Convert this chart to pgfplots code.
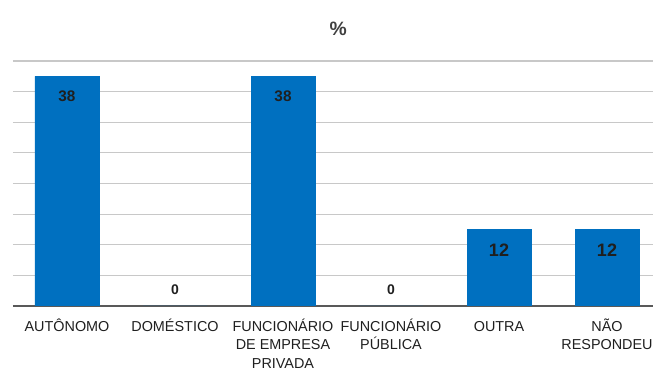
\documentclass[border=0pt]{standalone}
\usepackage{pgfplots}
\pgfplotsset{compat=1.18}
\usepackage{fontspec}
\setmainfont{Liberation Sans}
\definecolor{barblue}{HTML}{0070C0}
\definecolor{gridgray}{HTML}{C8C8C8}
\definecolor{axisgray}{HTML}{595959}
\definecolor{titlegray}{HTML}{404040}
\definecolor{txt}{HTML}{1F1F1F}
\begin{document}
\begin{tikzpicture}
\useasboundingbox (0,0) rectangle (489.75pt,277.5pt);
\begin{axis}[
  at={(9.75pt,48pt)}, anchor=south west,
  width=480pt, height=185.13pt, scale only axis,
  xmin=-0.5, xmax=5.426, ymin=0, ymax=40.3,
  axis line style={draw=none},
  ytick={5,10,...,40}, yticklabels={},
  extra y ticks={0}, extra y tick labels={},
  extra y tick style={grid style={draw=axisgray, line width=1.5pt}},
  ymajorgrids, grid style={draw=gridgray, line width=0.9pt},
  major tick length=0pt,
  xtick={0,1,2,3,4,5},
  xticklabels={\vphantom{Ô}AUTÔNOMO,\vphantom{Ô}DOMÉSTICO,{\vphantom{Ô}FUNCIONÁRIO\\DE EMPRESA\\PRIVADA},{\vphantom{Ô}FUNCIONÁRIO\\PÚBLICA},\vphantom{Ô}OUTRA,{\vphantom{Ô}NÃO\\RESPONDEU}},
  xticklabel style={align=center, font=\fontsize{10.8}{13.9}\selectfont, text=txt, yshift=-6pt},
  title={\%},
  title style={at={(axis description cs:0.508,1)}, anchor=center, yshift=16.6pt, font=\bfseries\fontsize{14.5}{16}\selectfont, text=titlegray},
  ybar, bar width=48pt, bar shift=0pt,
  point meta=explicit symbolic,
  nodes near coords,
]
\addplot[fill=barblue, draw=barblue,
  every node near coord/.append style={anchor=center, yshift=-15pt, font=\bfseries\fontsize{11.5}{13}\selectfont, text=txt}]
  coordinates {(0,37.5) [38] (2,37.5) [38]};
\addplot[fill=barblue, draw=barblue,
  every node near coord/.append style={anchor=center, yshift=-15.75pt, font=\bfseries\fontsize{13.5}{15}\selectfont, text=txt}]
  coordinates {(4,12.5) [12] (5,12.5) [12]};
\addplot[fill=barblue, draw=none,
  every node near coord/.append style={anchor=center, yshift=12pt, font=\bfseries\fontsize{10.5}{12}\selectfont, text=txt}]
  coordinates {(1,0) [0] (3,0) [0]};
\end{axis}
\end{tikzpicture}
\end{document}
